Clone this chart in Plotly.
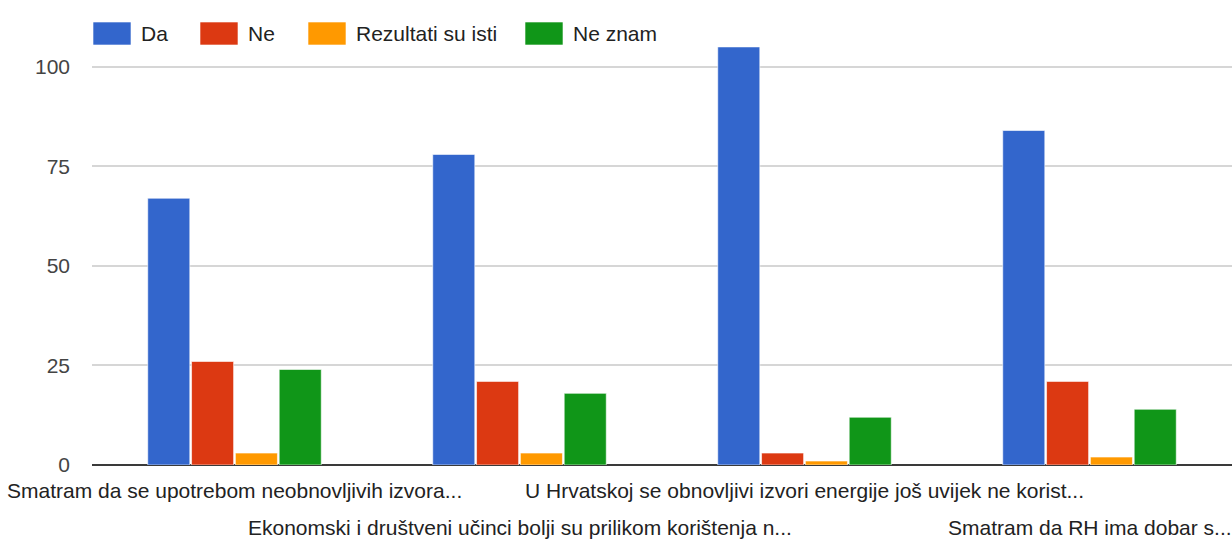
import plotly.graph_objects as go

categories = [
    "Smatram da se upotrebom neobnovljivih izvora...",
    "Ekonomski i društveni učinci bolji su prilikom korištenja n...",
    "U Hrvatskoj se obnovljivi izvori energije još uvijek ne korist...",
    "Smatram da RH ima dobar s...",
]
series_names = ["Da", "Ne", "Rezultati su isti", "Ne znam"]
da = [67, 78, 105, 84]
ne = [26, 21, 3, 21]
isti = [3, 3, 1, 2]
ne_znam = [24, 18, 12, 14]
colors = ["#3366cc", "#dc3912", "#ff9900", "#109618"]
y_ticks = [0, 25, 50, 75, 100]

FONT = "Liberation Sans, Arial, sans-serif"
FS = 21

fig = go.Figure()
for name, vals, col in zip(series_names, [da, ne, isti, ne_znam], colors):
    fig.add_trace(go.Bar(
        x=categories, y=vals, name=name,
        marker=dict(color=col, line=dict(color="rgba(255,255,255,0.6)", width=1)),
        showlegend=False,
    ))

# x labels, staggered in two rows
for i, c in enumerate(categories):
    fig.add_annotation(
        x=c, xref="x", y=0, yref="paper", yanchor="top", xanchor="center",
        yshift=-12 if i % 2 == 0 else -49,
        text=c, showarrow=False,
        font=dict(family=FONT, size=FS, color="#222222"),
    )

# custom legend (page pixel -> paper coordinates)
W, H_plot = 1140.0, 438.0
def px_x(p):
    return (p - 92) / W
def px_y(p):
    return (465 - p) / H_plot

legend_x = [93, 200, 308, 525]
for name, col, lx in zip(series_names, colors, legend_x):
    fig.add_shape(type="rect", xref="paper", yref="paper",
                  x0=px_x(lx), x1=px_x(lx + 38), y0=px_y(45), y1=px_y(22),
                  fillcolor=col, line=dict(color="rgba(255,255,255,0.6)", width=1), layer="above")
    fig.add_annotation(x=px_x(lx + 46), y=px_y(33.5), xref="paper", yref="paper",
                       xanchor="left", yanchor="middle", text=name, showarrow=False,
                       font=dict(family=FONT, size=FS, color="#222222"))

fig.update_layout(
    width=1232, height=543,
    margin=dict(l=92, r=0, t=27, b=78, autoexpand=False),
    paper_bgcolor="white", plot_bgcolor="white",
    barmode="group", bargap=0.385, bargroupgap=0.04,
    font=dict(family=FONT, size=FS, color="#444444"),
    xaxis=dict(type="category", range=[-0.5, 3.5], showticklabels=False, showgrid=False,
               zeroline=False, showline=False, ticks=""),
    yaxis=dict(range=[0, 110], tickvals=y_ticks, showgrid=True, gridcolor="#d6d6d6", gridwidth=2,
               zeroline=True, zerolinecolor="#3a3a3a", zerolinewidth=2,
               showline=False, ticks="", ticklabelstandoff=21, automargin=False,
               tickfont=dict(family=FONT, size=FS, color="#444444")),
)

fig.write_html("out.html", config={"displayModeBar": False},
               post_script="document.body.style.margin='0';document.body.style.overflow='hidden';")
